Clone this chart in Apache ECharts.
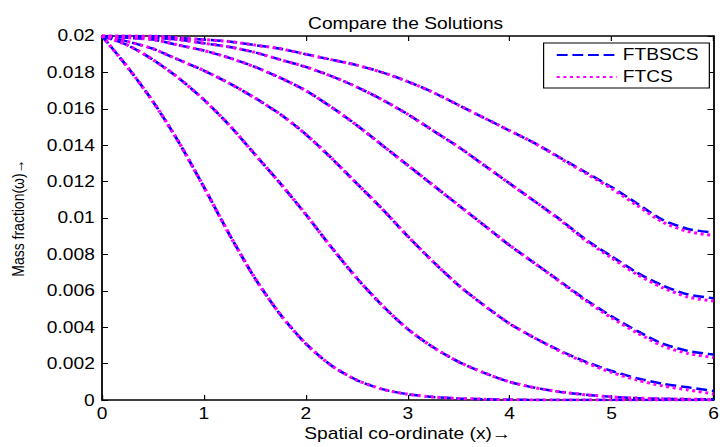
<!DOCTYPE html>
<html><head><meta charset="utf-8">
<script src="https://cdn.jsdelivr.net/npm/echarts@6/dist/echarts.min.js"></script>
<style>
html,body{margin:0;padding:0;background:#fff;overflow:hidden;width:722px;height:447px}
#wrap{width:602px;height:447px;transform:scaleX(1.2);transform-origin:0 0}
</style></head><body><div id="wrap"></div>
<script>
// x positions (spatial co-ordinate)
const xs = [0,0.25,0.5,0.75,1,1.25,1.5,1.75,2,2.25,2.5,2.75,3,3.25,3.5,3.75,4,4.25,4.5,4.75,5,5.25,5.5,5.75,6];

// FTBSCS profiles (six times, earliest first)
const ftbscs1 = [0.0200,0.0183,0.0164,0.0142,0.0117,0.0091,0.0067,0.0047,0.0031,0.0019,0.0011,0.0006,0.00032,0.00017,0.00009,0.00005,0.00002,0.00001,0,0,0,0,0,0,0];
const ftbscs2 = [0.0200,0.0195,0.0187,0.0177,0.0165,0.0151,0.0135,0.0119,0.0102,0.0084,0.0067,0.0052,0.0039,0.0029,0.0021,0.0015,0.0010,0.00068,0.00045,0.00029,0.00018,0.00011,0.00007,0.00005,0.00004];
const ftbscs3 = [0.0200,0.0197,0.0193,0.0187,0.0181,0.0174,0.0166,0.0157,0.0146,0.0133,0.0119,0.0105,0.0090,0.0076,0.0063,0.0052,0.0042,0.0034,0.0027,0.0021,0.0016,0.0012,0.0009,0.0007,0.0005];
const ftbscs4 = [0.0200,0.0199,0.0198,0.0195,0.0192,0.0188,0.0183,0.0177,0.0170,0.0161,0.0151,0.0140,0.0129,0.0118,0.0107,0.0096,0.0085,0.0075,0.0065,0.0055,0.0046,0.0038,0.0031,0.0027,0.0025];
const ftbscs5 = [0.0200,0.0200,0.0199,0.0198,0.0196,0.0194,0.0191,0.0187,0.0183,0.0178,0.0172,0.0165,0.0157,0.0148,0.0139,0.0129,0.0119,0.0109,0.0099,0.0088,0.0079,0.0070,0.0063,0.0058,0.0056];
const ftbscs6 = [0.0200,0.0200,0.0200,0.0199,0.0198,0.0197,0.0195,0.0193,0.0190,0.0187,0.0184,0.0180,0.0175,0.0169,0.0162,0.0155,0.0148,0.0141,0.0133,0.0125,0.0117,0.0108,0.0099,0.0094,0.0092];

// FTCS profiles
const ftcs1 = [0.0200,0.0183,0.0164,0.0142,0.0117,0.0091,0.0067,0.0047,0.0031,0.0019,0.0011,0.0006,0.00032,0.00017,0.00009,0.00005,0.00002,0.00001,0,0,0,0,0,0,0];
const ftcs2 = [0.0200,0.0195,0.0187,0.0177,0.0165,0.0151,0.0135,0.0119,0.0102,0.0084,0.0067,0.0052,0.0039,0.0029,0.0021,0.0015,0.0010,0.00068,0.00045,0.00029,0.00018,0.00011,0.00007,0.00005,0.00003];
const ftcs3 = [0.0200,0.0197,0.0193,0.0187,0.0181,0.0174,0.0166,0.0157,0.0146,0.0133,0.0119,0.0105,0.0090,0.0076,0.0063,0.0052,0.0042,0.0034,0.00267,0.00205,0.00152,0.0011,0.00078,0.00056,0.00034];
const ftcs4 = [0.0200,0.0199,0.0198,0.0195,0.0192,0.0188,0.0183,0.0177,0.0170,0.0161,0.0151,0.0140,0.0129,0.0118,0.0107,0.0096,0.0085,0.0075,0.00647,0.00545,0.00452,0.0037,0.00298,0.00256,0.00234];
const ftcs5 = [0.0200,0.0200,0.0199,0.0198,0.0196,0.0194,0.0191,0.0187,0.0183,0.0178,0.0172,0.0165,0.0157,0.0148,0.0139,0.0129,0.0119,0.0109,0.00987,0.00875,0.00782,0.0069,0.00618,0.00566,0.00544];
const ftcs6 = [0.0200,0.0200,0.0200,0.0199,0.0198,0.0197,0.0195,0.0193,0.0190,0.0187,0.0184,0.0180,0.0175,0.0169,0.0162,0.0155,0.0148,0.0141,0.01327,0.01245,0.01162,0.0107,0.00978,0.00926,0.00904];

const seriesNames = ['FTBSCS','FTCS'];
const titleText = 'Compare the Solutions';
const xName = 'Spatial co-ordinate (x)\u2192';
const yName = 'Mass fraction(\u03c9)\u2192';

const FONT = "'Liberation Sans', Arial, sans-serif";
const pair = arr => arr.map((v,i)=>[xs[i], v]);

const blueSets = [ftbscs1,ftbscs2,ftbscs3,ftbscs4,ftbscs5,ftbscs6];
const magSets = [ftcs1,ftcs2,ftcs3,ftcs4,ftcs5,ftcs6];

const series = [];
blueSets.forEach((d,i)=>series.push({
  id:'b'+i, name: seriesNames[0], type:'line', data: pair(d), symbol:'none', smooth:0.25,
  lineStyle:{color:'#0000ff', width:2.5, type:[9,4], cap:'butt'}, itemStyle:{color:'#0000ff'}, z:2, silent:true
}));
magSets.forEach((d,i)=>series.push({
  id:'m'+i, name: seriesNames[1], type:'line', data: pair(d), symbol:'none', smooth:0.25,
  lineStyle:{color:'#ff00ff', width:3, type:[2.5,3], cap:'butt'}, itemStyle:{color:'#ff00ff'}, z:3, silent:true
}));

const tickStyle = {show:true, inside:true, length:5, lineStyle:{color:'#000', width:1}};
const lineSt = {show:true, onZero:false, lineStyle:{color:'#000', width:1.5}};

const chart = echarts.init(document.getElementById('wrap'), null, {renderer:'svg', width:602, height:447});
chart.setOption({
  animation:false,
  backgroundColor:'#fff',
  title:{text:titleText, left:333, top:11, textAlign:'center', textStyle:{fontFamily:FONT, fontSize:16, fontWeight:'normal', color:'#000'}},
  legend:{
    data: seriesNames, orient:'vertical', left:453, top:43,
    itemWidth:50, itemHeight:14, itemGap:6,
    padding:[4,9,3,10],
    itemStyle:{color:'rgba(0,0,0,0)', borderWidth:0, opacity:0},
    backgroundColor:'#fff', borderColor:'#000', borderWidth:1, borderRadius:0,
    textStyle:{fontFamily:FONT, fontSize:16, color:'#000', lineHeight:16}
  },
  grid:{left:78.3, right:2.5, top:36, bottom:41, containLabel:false},
  xAxis:[{
    type:'value', min:0, max:6, interval:1, position:'bottom',
    name:xName, nameLocation:'middle', nameGap:24,
    nameTextStyle:{fontFamily:FONT, fontSize:16, color:'#000'},
    axisLine:lineSt, axisTick:tickStyle, splitLine:{show:false},
    axisLabel:{fontFamily:FONT, fontSize:16, color:'#000', margin:5}
  },{
    type:'value', min:0, max:6, interval:1, position:'top',
    axisLine:lineSt, axisTick:tickStyle, splitLine:{show:false}, axisLabel:{show:false}
  }],
  yAxis:[{
    type:'value', min:0, max:0.02, interval:0.002, position:'left',
    name:yName, nameLocation:'middle', nameGap:63, nameRotate:90,
    nameTextStyle:{fontFamily:FONT, fontSize:14, color:'#000'},
    axisLine:lineSt, axisTick:tickStyle, splitLine:{show:false},
    axisLabel:{fontFamily:FONT, fontSize:16, color:'#000', margin:6, formatter:v=>String(Number(v.toFixed(4)))}
  },{
    type:'value', min:0, max:0.02, interval:0.002, position:'right',
    axisLine:lineSt, axisTick:tickStyle, splitLine:{show:false}, axisLabel:{show:false}
  }],
  series: series
});
</script></body></html>
